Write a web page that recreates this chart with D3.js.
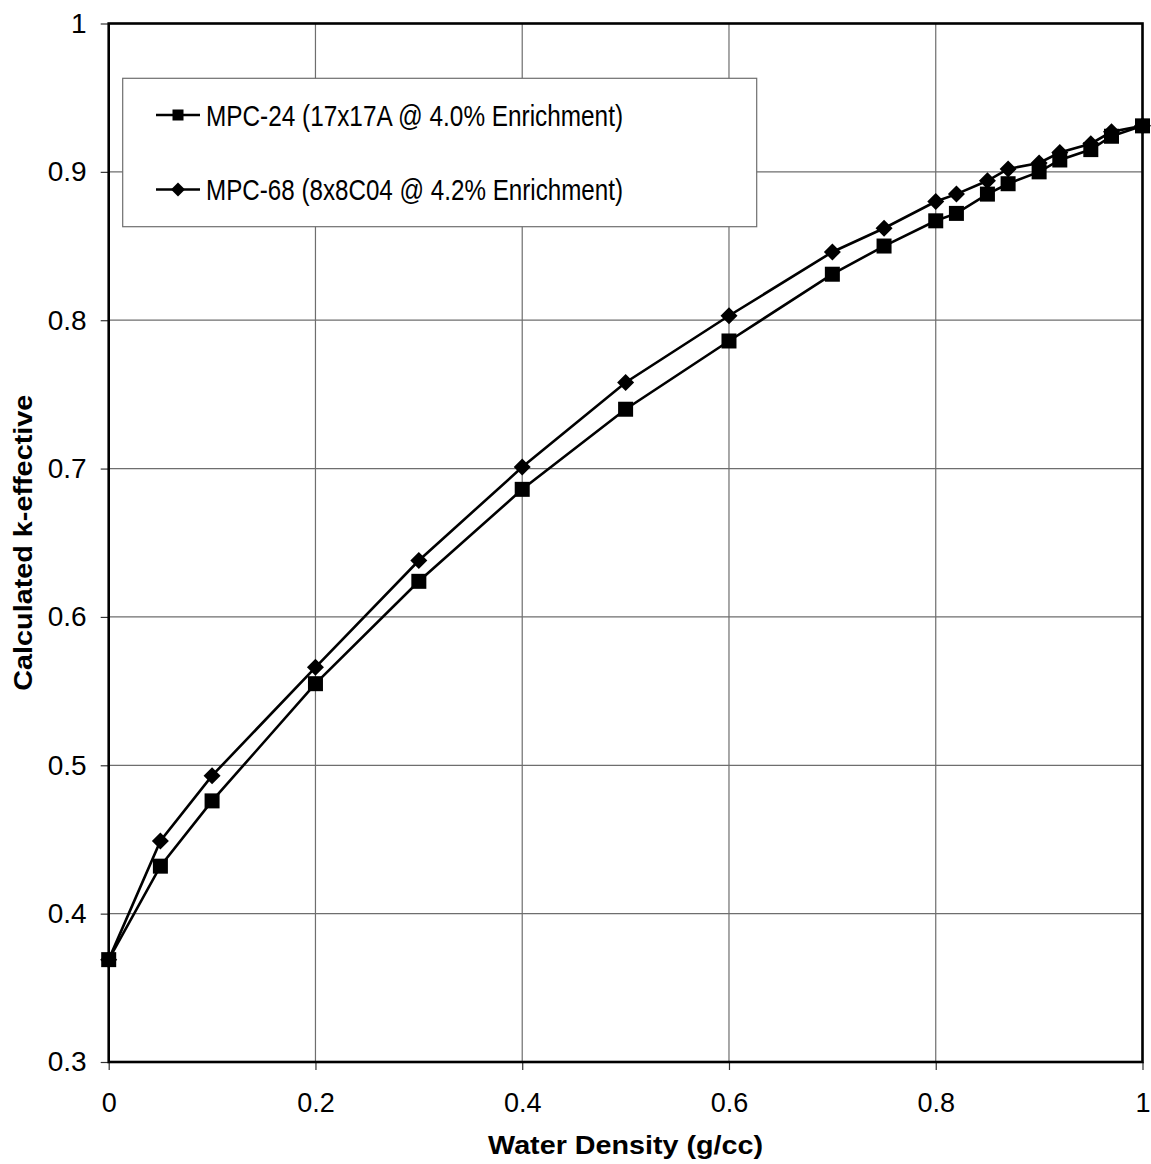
<!DOCTYPE html>
<html>
<head>
<meta charset="utf-8">
<script src="https://cdn.jsdelivr.net/npm/d3@7"></script>
<style>
  html, body { margin: 0; padding: 0; background: #fff; }
  svg { display: block; }
  text { font-family: "Liberation Sans", Arial, sans-serif; fill: #000; }
</style>
</head>
<body>
<svg id="chart" width="1151" height="1164"></svg>
<script>
// ---- data ----
const waterDensity = [0, 0.05, 0.1, 0.2, 0.3, 0.4, 0.5, 0.6, 0.7, 0.75, 0.8, 0.82, 0.85, 0.87, 0.9, 0.92, 0.95, 0.97, 1.0];
const mpc24 = [0.369, 0.432, 0.476, 0.555, 0.624, 0.686, 0.740, 0.786, 0.831, 0.850, 0.867, 0.872, 0.885, 0.892, 0.900, 0.908, 0.915, 0.924, 0.931];
const mpc68 = [0.369, 0.449, 0.493, 0.566, 0.638, 0.701, 0.758, 0.803, 0.846, 0.862, 0.880, 0.885, 0.894, 0.902, 0.906, 0.913, 0.919, 0.927, 0.931];
const seriesNames = ["MPC-24 (17x17A @ 4.0% Enrichment)", "MPC-68 (8x8C04 @ 4.2% Enrichment)"];
const xTicks = [0, 0.2, 0.4, 0.6, 0.8, 1];
const yTicks = [0.3, 0.4, 0.5, 0.6, 0.7, 0.8, 0.9, 1];
const xTitle = "Water Density (g/cc)";
const yTitle = "Calculated k-effective";

// ---- layout ----
const L = 108.7, R = 1142.5, T = 23.5, B = 1062;
const svg = d3.select("#chart");
const x = d3.scaleLinear().domain([0, 1]).range([L, R]);
const y = d3.scaleLinear().domain([0.3, 1]).range([B, T]);

// gridlines
const grid = svg.append("g");
grid.selectAll("line.h").data(yTicks).join("line")
  .attr("x1", L).attr("x2", R)
  .attr("y1", d => y(d)).attr("y2", d => y(d))
  .attr("stroke", "#6e6e6e").attr("stroke-width", 1.2);
grid.selectAll("line.v").data(xTicks).join("line")
  .attr("y1", T).attr("y2", B)
  .attr("x1", d => x(d)).attr("x2", d => x(d))
  .attr("stroke", "#6e6e6e").attr("stroke-width", 1.2);

// axes (ticks outward + labels)
const xAxis = d3.axisBottom(x).tickValues(xTicks).tickSize(8).tickPadding(23)
  .tickFormat(d => d3.format("")(d));
const gx = svg.append("g").attr("transform", `translate(0,${B})`).call(xAxis);
gx.select(".domain").remove();
gx.selectAll(".tick line").attr("stroke", "#333").attr("stroke-width", 1.2);
gx.selectAll(".tick text").attr("font-size", 27).attr("dy", "0.71em")
  .style("font-family", '"Liberation Sans", Arial, sans-serif').attr("fill", "#000");

const yAxis = d3.axisLeft(y).tickValues(yTicks).tickSize(8).tickPadding(14)
  .tickFormat(d => d3.format("")(d));
const gy = svg.append("g").attr("transform", `translate(${L},0)`).call(yAxis);
gy.select(".domain").remove();
gy.selectAll(".tick line").attr("stroke", "#333").attr("stroke-width", 1.2);
gy.selectAll(".tick text").attr("font-size", 28)
  .style("font-family", '"Liberation Sans", Arial, sans-serif').attr("fill", "#000");

// series
const line = d3.line().x(d => x(d[0])).y(d => y(d[1]));
const s24 = waterDensity.map((d, i) => [d, mpc24[i]]);
const s68 = waterDensity.map((d, i) => [d, mpc68[i]]);

svg.append("path").datum(s68).attr("d", line)
  .attr("fill", "none").attr("stroke", "#000").attr("stroke-width", 2.6);
svg.append("path").datum(s24).attr("d", line)
  .attr("fill", "none").attr("stroke", "#000").attr("stroke-width", 2.6);

const sq = 15, dm = 8.5;
svg.append("g").selectAll("path").data(s68).join("path")
  .attr("d", d => `M${x(d[0])},${y(d[1]) - dm}L${x(d[0]) + dm},${y(d[1])}L${x(d[0])},${y(d[1]) + dm}L${x(d[0]) - dm},${y(d[1])}Z`)
  .attr("fill", "#000");
svg.append("g").selectAll("rect").data(s24).join("rect")
  .attr("x", d => x(d[0]) - sq / 2).attr("y", d => y(d[1]) - sq / 2)
  .attr("width", sq).attr("height", sq).attr("fill", "#000");

// plot border
svg.append("rect").attr("x", L).attr("y", T).attr("width", R - L).attr("height", B - T)
  .attr("fill", "none").attr("stroke", "#000").attr("stroke-width", 2.6);

// legend
const lg = svg.append("g");
lg.append("rect").attr("x", 122.7).attr("y", 78.3).attr("width", 634).attr("height", 148.4)
  .attr("fill", "#fff").attr("stroke", "#6e6e6e").attr("stroke-width", 1.2);
const rows = [115, 189.5];
seriesNames.forEach((name, i) => {
  const cy = rows[i];
  lg.append("line").attr("x1", 156).attr("x2", 200).attr("y1", cy).attr("y2", cy)
    .attr("stroke", "#000").attr("stroke-width", 2.4);
  if (i === 0) {
    lg.append("rect").attr("x", 178 - 5.5).attr("y", cy - 5.5).attr("width", 11).attr("height", 11).attr("fill", "#000");
  } else {
    const r = 7;
    lg.append("path").attr("d", `M178,${cy - r}L${178 + r},${cy}L178,${cy + r}L${178 - r},${cy}Z`).attr("fill", "#000");
  }
  lg.append("text").attr("x", 206).attr("y", cy + 10.5).attr("font-size", 30)
    .attr("textLength", 417).attr("lengthAdjust", "spacingAndGlyphs").text(name);
});

// axis titles
svg.append("text").attr("x", (L + R) / 2).attr("y", 1154).attr("text-anchor", "middle")
  .attr("font-size", 25).attr("font-weight", "bold")
  .attr("textLength", 275).attr("lengthAdjust", "spacingAndGlyphs").text(xTitle);
svg.append("text").attr("transform", `translate(32,${(T + B) / 2}) rotate(-90)`)
  .attr("text-anchor", "middle").attr("font-size", 26).attr("font-weight", "bold")
  .attr("textLength", 296).attr("lengthAdjust", "spacingAndGlyphs").text(yTitle);
</script>
</body>
</html>
